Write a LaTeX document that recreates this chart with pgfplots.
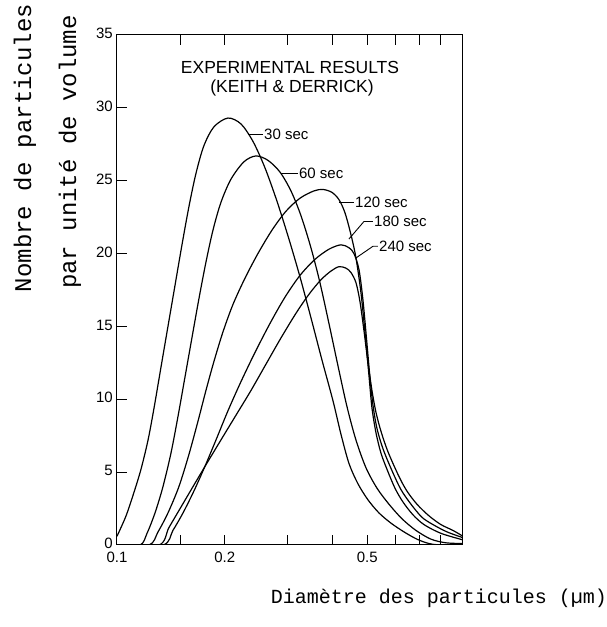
\documentclass[border=0pt]{standalone}
\usepackage{fontspec}
\setmainfont{Liberation Sans}
\newfontfamily\mono{Liberation Mono}
\usepackage{pgfplots}
\pgfplotsset{compat=1.18}
\begin{document}
\begin{tikzpicture}[x=1pt,y=1pt]
\useasboundingbox (-117,-82) rectangle (489,545);
\begin{axis}[
  at={(0,0)}, anchor=south west,
  scale only axis, width=346pt, height=510pt,
  xmode=log, xmin=0.1, xmax=0.926, ymin=0, ymax=35,
  axis line style={line width=1pt},
  tick align=inside, major tick length=10pt,
  tick style={line width=1pt, black},
  xtick pos=both, ytick pos=left,
  xtick={0.1,0.15,0.2,0.3,0.4,0.5,0.6,0.7,0.8},
  xticklabels={0.1,,0.2,,,0.5,,,},
  ytick={0,5,10,15,20,25,30,35},
  every tick label/.append style={font=\fontsize{15}{15}\selectfont},
  xticklabel style={inner sep=1pt, yshift=-6pt},
  yticklabel style={inner sep=4pt, yshift=1.5pt},
  /pgf/number format/assume math mode=true,
  clip=true,
]
% 30 sec
\addplot[black, line width=1.2pt, smooth, tension=0.5] coordinates {
(0.1000,0.6) (0.1060,2.0) (0.1115,3.6) (0.1167,5.2) (0.1221,7.2) (0.1269,9.4)
(0.1327,12.2) (0.1388,15.0) (0.1452,17.8) (0.1519,20.6) (0.1588,23.2) (0.1662,25.5)
(0.1749,27.4) (0.1866,28.7) (0.2041,29.3) (0.2219,28.9) (0.2398,27.7) (0.2589,25.9)
(0.2798,23.6) (0.3022,21.0) (0.3245,18.4) (0.3482,15.6) (0.3738,12.7) (0.4012,9.9)
(0.4224,7.6) (0.4447,5.6) (0.4712,4.2) (0.5025,3.1) (0.5394,2.2) (0.5827,1.5)
(0.6335,0.9) (0.6887,0.4) (0.7442,0.1) (0.8035,0.0) (0.926,0.0)};
% 60 sec
\addplot[black, line width=1.2pt, smooth, tension=0.5] coordinates {
(0.1,0) (0.1160,0) (0.1213,0.8) (0.1277,2.2) (0.1344,4.0) (0.1415,6.3) (0.1480,8.8)
(0.1548,11.5) (0.1619,14.2) (0.1694,16.9) (0.1772,19.4) (0.1854,21.6) (0.1951,23.5)
(0.2081,25.1) (0.2263,26.3) (0.2444,26.7) (0.2640,26.4) (0.2852,25.6) (0.3062,24.3)
(0.3266,22.6) (0.3482,20.4) (0.3690,18.0) (0.3910,15.2) (0.4143,12.3) (0.4390,9.5)
(0.4652,7.2) (0.4961,5.3) (0.5325,3.9) (0.5752,2.8) (0.6254,1.8) (0.6843,1.0)
(0.7538,0.4) (0.8300,0.15) (0.926,0.1)};
% 120 sec
\addplot[black, line width=1.2pt, smooth, tension=0.5] coordinates {
(0.1,0) (0.1229,0) (0.1302,0.9) (0.1388,2.2) (0.1489,4.0) (0.1588,6.2) (0.1684,8.5)
(0.1772,10.6) (0.1866,12.6) (0.1976,14.6) (0.2108,16.5) (0.2277,18.3) (0.2476,20.0)
(0.2709,21.6) (0.2964,22.9) (0.3245,23.8) (0.3550,24.3) (0.3762,24.4) (0.3987,24.2)
(0.4170,23.7) (0.4334,22.8) (0.4504,21.3) (0.4652,19.7) (0.4804,17.3) (0.4929,14.6)
(0.5058,11.6) (0.5156,9.4) (0.5291,7.7) (0.5464,6.3) (0.5678,5.2) (0.5978,3.9)
(0.6294,2.95) (0.6713,2.07) (0.7206,1.4) (0.8035,0.8) (0.926,0.35)};
% 180 sec
\addplot[black, line width=1.2pt, smooth, tension=0.5] coordinates {
(0.1,0) (0.1344,0) (0.1433,1.0) (0.1529,2.2) (0.1640,3.7) (0.1761,5.4) (0.1890,7.2)
(0.2041,9.2) (0.2219,11.2) (0.2428,13.2) (0.2675,15.2) (0.2945,17.0) (0.3245,18.5)
(0.3573,19.6) (0.3910,20.3) (0.4224,20.6) (0.4447,20.4) (0.4592,20.0) (0.4743,18.9)
(0.4866,16.8) (0.4993,13.8) (0.5090,11.5) (0.5189,9.6) (0.5325,8.0) (0.5535,6.6)
(0.5865,5.1) (0.6214,3.8) (0.6627,2.8) (0.7114,1.9) (0.7636,1.4) (0.8354,0.9) (0.926,0.5)};
% 240 sec
\addplot[black, line width=1.2pt, smooth, tension=0.5] coordinates {
(0.1,0) (0.1310,0) (0.1397,1.2) (0.1509,2.6) (0.1630,4.0) (0.1772,5.5) (0.1951,7.2)
(0.2149,8.9) (0.2367,10.6) (0.2606,12.4) (0.2870,14.2) (0.3162,15.9) (0.3437,17.2)
(0.3714,18.2) (0.3961,18.8) (0.4170,19.1) (0.4362,19.0) (0.4504,18.7) (0.4652,18.0)
(0.4773,16.7) (0.4898,14.7) (0.5025,12.5) (0.5156,10.6) (0.5291,9.1) (0.5464,7.8)
(0.5715,6.4) (0.6134,4.7) (0.6458,3.7) (0.6887,2.8) (0.7442,2.0) (0.8035,1.4)
(0.8681,1.0) (0.926,0.6)};
% annotations
\node[font=\fontsize{17.5}{18}\selectfont] at (rel axis cs:0.5,0.937) {EXPERIMENTAL RESULTS};
\node[font=\fontsize{17.5}{18}\selectfont] at (rel axis cs:0.506,0.896) {(KEITH \& DERRICK)};
\draw[line width=0.9pt] (axis cs:0.2322,28.2) -- (axis cs:0.2558,28.2);
\node[anchor=west, inner sep=1pt, font=\fontsize{15}{15}\selectfont] at (axis cs:0.2558,28.2) {30 sec};
\draw[line width=0.9pt] (axis cs:0.2870,25.5) -- (axis cs:0.3203,25.5);
\node[anchor=west, inner sep=1pt, font=\fontsize{15}{15}\selectfont] at (axis cs:0.3203,25.5) {60 sec};
\draw[line width=0.9pt] (axis cs:0.4169,23.5) -- (axis cs:0.4594,23.5);
\node[anchor=west, inner sep=1pt, font=\fontsize{15}{15}\selectfont] at (axis cs:0.4594,23.5) {120 sec};
\draw[line width=0.9pt] (axis cs:0.4446,21.0) -- (axis cs:0.4897,22.2) -- (axis cs:0.5189,22.2);
\node[anchor=west, inner sep=1pt, font=\fontsize{15}{15}\selectfont] at (axis cs:0.5189,22.2) {180 sec};
\draw[line width=0.9pt] (axis cs:0.4652,19.7) -- (axis cs:0.5189,20.5) -- (axis cs:0.5359,20.5);
\node[anchor=west, inner sep=1pt, font=\fontsize{15}{15}\selectfont] at (axis cs:0.5359,20.5) {240 sec};
\end{axis}
\node[rotate=90, font=\mono\fontsize{24}{24}\selectfont] at (-92,397) {Nombre de particules};
\node[rotate=90, font=\mono\fontsize{24}{24}\selectfont] at (-47,393) {par unité de volume};
\node[font=\mono\fontsize{20}{20}\selectfont] at (322,-53) {Diamètre des particules (µm)};
\end{tikzpicture}
\end{document}
